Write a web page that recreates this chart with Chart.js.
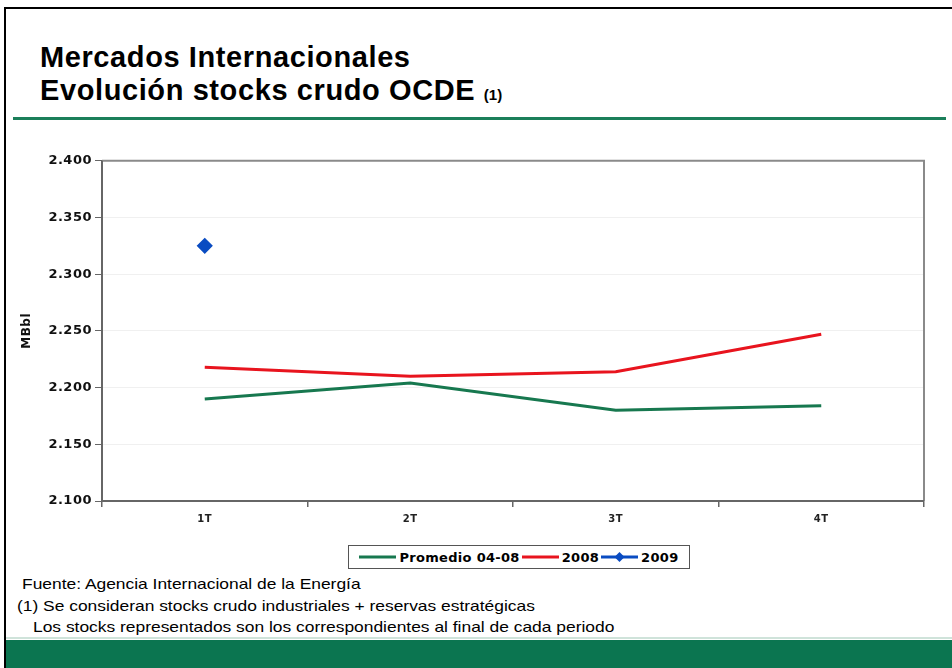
<!DOCTYPE html>
<html>
<head>
<meta charset="utf-8">
<script src="https://cdn.jsdelivr.net/npm/chart.js@4/dist/chart.umd.min.js"></script>
<style>
  body { margin: 0; width: 952px; height: 668px; background: #fff; font-family: "Liberation Sans", Arial, sans-serif; overflow: hidden; }
  #page { position: absolute; left: 4px; top: 7px; width: 960px; height: 670px; border-left: 2px solid #000; border-top: 2px solid #000; }
  #title { position: absolute; left: 40px; top: 41px; font-size: 29px; font-weight: bold; line-height: 33px; color: #000; letter-spacing: 0.6px; }
  #title small { font-size: 15px; letter-spacing: 0; }
  #rule { position: absolute; left: 13px; top: 117px; width: 933px; height: 3px; background: #1b7f5a; }
  #chartBox { position: absolute; left: 0; top: 150px; width: 952px; height: 390px; }
  #legend { position: absolute; left: 348px; top: 545px; width: 340px; height: 22px; border: 1px solid #555; display: flex; align-items: center; justify-content: center; font-family: "DejaVu Sans", sans-serif; font-size: 13px; font-weight: bold; letter-spacing: 0.3px; }
  #legend span.item { display: flex; align-items: center; margin: 0 1px; }
  #legend canvas { margin-right: 3px; }
  .note { position: absolute; font-size: 14.5px; color: #000; transform: scaleX(1.2); transform-origin: left top; white-space: nowrap; }
  #band { position: absolute; left: 6px; top: 640px; width: 946px; height: 28px; background: #0b7550; }
  #bandLine { position: absolute; left: 6px; top: 637px; width: 946px; height: 2px; background: #cfe3da; }
</style>
</head>
<body>
<div id="page"></div>
<div id="title">Mercados Internacionales<br>Evolución stocks crudo OCDE <small>(1)</small></div>
<div id="rule"></div>
<div id="chartBox"><canvas id="chart" width="952" height="390"></canvas></div>
<div id="legend"></div>
<div class="note" style="left:22px; top:576px;">Fuente: Agencia Internacional de la Energía</div>
<div class="note" style="left:17px; top:598px;">(1) Se consideran stocks crudo industriales + reservas estratégicas</div>
<div class="note" style="left:33px; top:619px;">Los stocks representados son los correspondientes al final de cada periodo</div>
<div id="bandLine"></div>
<div id="band"></div>
<script>
const quarters = ['1T', '2T', '3T', '4T'];
const promedio = [2.190, 2.204, 2.180, 2.184];
const stocks2008 = [2.218, 2.210, 2.214, 2.247];
const stocks2009 = [2.325, null, null, null];
const yTicks = [2.100, 2.150, 2.200, 2.250, 2.300, 2.350, 2.400];

const series = [
    { label: 'Promedio 04-08', data: promedio, color: '#17784f', marker: false },
    { label: '2008', data: stocks2008, color: '#e8141e', marker: false },
    { label: '2009', data: stocks2009, color: '#0a4cc2', marker: true }
];

// a touch of extra glyph spacing on the axis labels
const spacing = chart => { chart.ctx.letterSpacing = '0.5px'; };
const axisFont = size => ({ family: 'DejaVu Sans', size: size, weight: 'bold' });

const frame = {
    id: 'frame',
    beforeUpdate: spacing,
    beforeLayout: spacing,
    beforeDraw: spacing,
    afterDraw(chart) {
        const a = chart.chartArea;
        const ctx = chart.ctx;
        ctx.save();
        ctx.strokeStyle = '#8a8a8a';
        ctx.lineWidth = 2;
        ctx.beginPath();
        ctx.moveTo(a.left, a.top);
        ctx.lineTo(a.right, a.top);
        ctx.lineTo(a.right, a.bottom);
        ctx.stroke();
        ctx.strokeStyle = '#666';
        ctx.beginPath();
        ctx.moveTo(a.left, a.top);
        ctx.lineTo(a.left, a.bottom);
        ctx.lineTo(a.right, a.bottom);
        ctx.stroke();
        ctx.restore();
    }
};

new Chart(document.getElementById('chart'), {
    type: 'line',
    data: {
        labels: quarters,
        datasets: series.map(s => ({
            label: s.label,
            data: s.data,
            borderColor: s.color,
            backgroundColor: s.color,
            borderWidth: 3,
            pointStyle: 'rectRot',
            pointRadius: s.marker ? 6 : 0,
            pointHoverRadius: 0,
            fill: false,
            tension: 0
        }))
    },
    options: {
        responsive: false,
        animation: false,
        layout: { padding: { top: 10, right: 28, left: 20, bottom: 0 } },
        plugins: { legend: { display: false }, tooltip: { enabled: false } },
        scales: {
            x: {
                offset: true,
                afterFit: s => { s.height = 39; },
                grid: { offset: true, drawOnChartArea: false, tickLength: 6, color: '#666', lineWidth: 1.5 },
                border: { display: false },
                ticks: { color: '#222', font: axisFont(10), padding: 6 }
            },
            y: {
                min: 2.1,
                max: 2.4,
                afterFit: s => { s.width = 82; },
                afterBuildTicks: s => { s.ticks = yTicks.map(v => ({ value: v })); },
                grid: { color: '#f0f0f0', tickColor: '#666', tickLength: 7, lineWidth: 1 },
                border: { display: false },
                ticks: {
                    autoSkip: false,
                    color: '#111',
                    font: axisFont(13),
                    padding: 3,
                    callback: v => v.toFixed(3)
                },
                title: { display: true, text: 'MBbl', color: '#111', font: axisFont(12), padding: { top: 0, bottom: 0 } }
            }
        }
    },
    plugins: [frame]
});

// legend built from the same series
const legend = document.getElementById('legend');
series.forEach(s => {
    const item = document.createElement('span');
    item.className = 'item';
    const c = document.createElement('canvas');
    c.width = 37; c.height = 14;
    const g = c.getContext('2d');
    g.strokeStyle = s.color; g.lineWidth = 3;
    g.beginPath(); g.moveTo(0, 7); g.lineTo(37, 7); g.stroke();
    if (s.marker) {
        g.fillStyle = s.color;
        g.beginPath(); g.moveTo(18.5, 2); g.lineTo(23.5, 7); g.lineTo(18.5, 12); g.lineTo(13.5, 7); g.closePath(); g.fill();
    }
    item.appendChild(c);
    item.appendChild(document.createTextNode(s.label));
    legend.appendChild(item);
});
</script>
</body>
</html>
